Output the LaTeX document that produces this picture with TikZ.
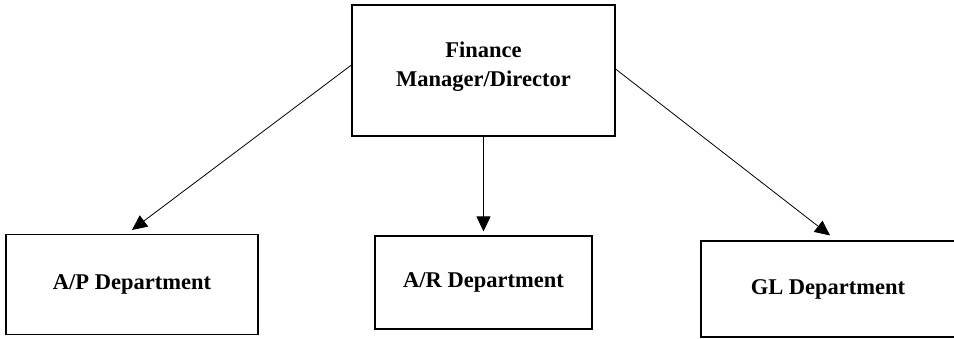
\documentclass[tikz,border=0pt]{standalone}
\usepackage{fontspec}
\setmainfont{Liberation Serif}
\usetikzlibrary{arrows.meta}
\begin{document}
\begin{tikzpicture}[x=1pt,y=-1pt,
  box/.style={draw=black,line width=1.1pt,fill=white,inner sep=0pt,align=center,
    font=\bfseries\fontsize{22.5}{29}\selectfont},
  lbl/.style={inner sep=0pt,align=center,font=\bfseries\fontsize{22.5}{29}\selectfont},
  arr/.style={draw=black,line width=0.8pt,-{Triangle[length=15pt,width=14pt]}}]
\useasboundingbox (0,0) rectangle (954,339);
\node[box,minimum width=263pt,minimum height=131pt] (top) at (483.5,70.5) {};
\node[lbl] (toplbl) at (483.5,67) {Finance\\Manager/Director};
\node[box,minimum width=252pt,minimum height=100pt] (ap) at (132,284.5) {A/P Department};
\node[box,minimum width=217pt,minimum height=93pt] (ar) at (483.5,282.5) {A/R Department};
\node[box,minimum width=254pt,minimum height=96pt] (gl) at (828,289) {GL Department};
\draw[arr] ([yshift=5.5pt]top.west) -- ([yshift=4pt]ap.north);
\draw[arr] (top.south) -- ([yshift=4pt]ar.north);
\draw[arr] ([yshift=1.5pt]top.east) -- ([xshift=2pt,yshift=5pt]gl.north);
\end{tikzpicture}
\end{document}
